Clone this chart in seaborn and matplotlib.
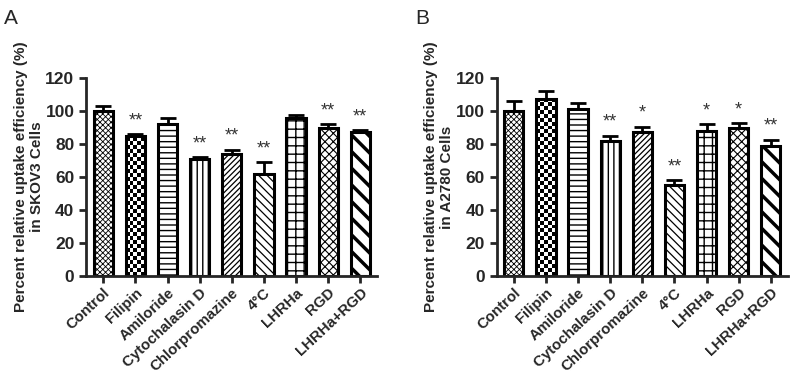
import numpy as np
import pandas as pd
import matplotlib
matplotlib.use('Agg')
import matplotlib.pyplot as plt
import seaborn as sns

# Data
treatments = ['Control', 'Filipin', 'Amiloride', 'Cytochalasin D', 'Chlorpromazine',
              '4°C', 'LHRHa', 'RGD', 'LHRHa+RGD']
skov3_mean = [100, 85, 92, 71, 74, 62, 96, 90, 87]
skov3_err = [3, 1, 4, 1, 2.5, 7, 1.5, 2, 1.5]
skov3_sig = ['', '**', '', '**', '**', '**', '', '**', '**']
a2780_mean = [100, 107, 101, 82, 87, 55, 88, 90, 79]
a2780_err = [6, 5, 4, 3, 3.5, 3, 4, 2.5, 3.5]
a2780_sig = ['', '', '', '**', '*', '**', '*', '*', '**']
hatches = ['xxxxxx', '', '---', '|||', '//////', '\\\\\\\\', '++', 'xxxx', '\\\\']
hatch_lw = [0.6, 1, 1, 1, 0.9, 0.9, 1, 0.8, 2.5]
yticks = [0, 20, 40, 60, 80, 100, 120]

sns.set_style('ticks')
plt.rcParams['font.family'] = ['Liberation Sans', 'DejaVu Sans']
plt.rcParams['hatch.linewidth'] = 0.9
plt.rcParams['hatch.color'] = 'black'

fig = plt.figure(figsize=(7.91, 3.75), dpi=100)
ax_a = fig.add_axes([0.109, 0.264, 0.368, 0.528])
ax_b = fig.add_axes([0.628, 0.264, 0.368, 0.528])


def draw_panel(ax, means, errs, sig, cell):
    df = pd.DataFrame({'treatment': treatments, 'value': means})
    sns.barplot(data=df, x='treatment', y='value', ax=ax, color='white',
                width=0.6, edgecolor='black', linewidth=2.2, errorbar=None)
    for i, p in enumerate(ax.patches):
        p.set_hatch(hatches[i])
        if hasattr(p, 'set_hatch_linewidth'):
            p.set_hatch_linewidth(hatch_lw[i])
        p.set_zorder(2)
    # Filipin uses a checkerboard pattern
    fil = ax.patches[1]
    fil.set_facecolor('none')
    x0 = fil.get_x()
    w = fil.get_width()
    n_cols = 5
    sq = w / n_cols
    sq_h = 2.4
    for r in range(int(means[1] / sq_h) + 1):
        for c in range(n_cols):
            if (r + c) % 2 == 0:
                h = min(sq_h, means[1] - r * sq_h)
                if h > 0:
                    ax.add_patch(plt.Rectangle((x0 + c * sq, r * sq_h), sq, h,
                                               facecolor='black', linewidth=0, zorder=1.5))
    x = np.arange(len(means))
    ax.errorbar(x, means, yerr=[np.zeros(len(errs)), errs], fmt='none',
                ecolor='black', elinewidth=2, capsize=6, capthick=2, zorder=1)
    for i, s in enumerate(sig):
        if s:
            ax.text(i, means[i] + errs[i] + 3, s, ha='center', va='bottom',
                    fontsize=13, color='#333333')
    ax.set_ylim(0, 120)
    ax.set_xlim(-0.53, len(means) - 0.47)
    ax.set_yticks(yticks)
    ax.set_xlabel('')
    ax.set_ylabel('Percent relative uptake efficiency (%)\nin ' + cell + ' Cells',
                  fontsize=11, fontweight='bold', labelpad=1)
    ax.set_xticks(x)
    ax.set_xticklabels(treatments, rotation=43, ha='right', rotation_mode='anchor',
                       fontsize=10.8, fontweight='bold')
    for lab in ax.get_yticklabels():
        lab.set_fontweight('bold')
        lab.set_fontsize(12.5)
    ax.tick_params(width=2, length=5)
    ax.tick_params(axis='x', pad=2)
    for side in ['left', 'bottom']:
        ax.spines[side].set_linewidth(2)
    sns.despine(ax=ax)


draw_panel(ax_a, skov3_mean, skov3_err, skov3_sig, 'SKOV3')
draw_panel(ax_b, a2780_mean, a2780_err, a2780_sig, 'A2780')

fig.text(0.005, 0.975, 'A', fontsize=15, va='top', ha='left')
fig.text(0.525, 0.975, 'B', fontsize=15, va='top', ha='left')

fig.savefig('out.png', dpi=100)
